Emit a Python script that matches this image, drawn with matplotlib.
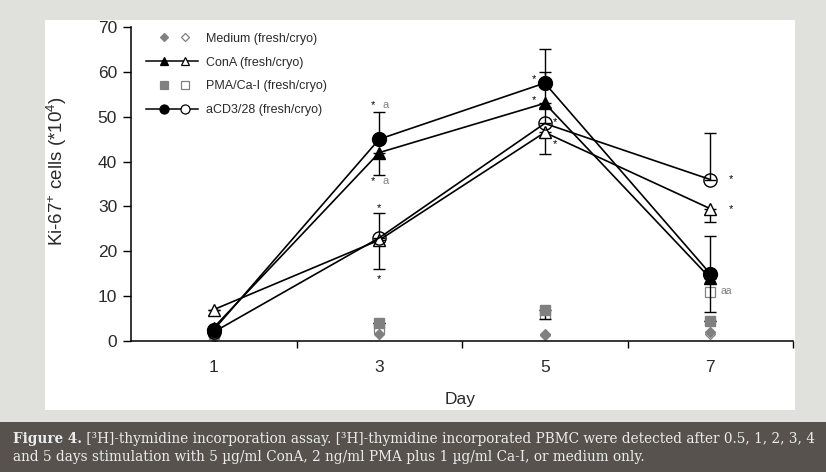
import matplotlib
matplotlib.use("Agg")
import matplotlib.pyplot as plt
from matplotlib.lines import Line2D
from matplotlib.patches import Rectangle
from matplotlib.legend_handler import HandlerBase

plt.rcParams['font.family'] = ['Liberation Sans', 'DejaVu Sans']
plt.rcParams['mathtext.fontset'] = 'custom'
plt.rcParams['mathtext.rm'] = 'Liberation Sans'
plt.rcParams['mathtext.it'] = 'Liberation Sans'

# ---------------- data ----------------
days = [1, 3, 5, 7]
tick_days = [1, 3, 5, 7]
minor_days = [2, 4, 6, 8]
y_ticks = [0, 10, 20, 30, 40, 50, 60, 70]

acd_fresh = [2.5, 45.0, 57.5, 15.0]
acd_cryo = [2.0, 23.0, 48.5, 36.0]
cona_fresh = [3.0, 42.0, 53.0, 14.0]
cona_cryo = [7.0, 22.5, 46.5, 29.5]
pma_fresh = [2.0, 4.0, 7.0, 4.5]
pma_cryo = [1.5, 3.0, 6.0, 11.0]
med_fresh = [1.0, 1.5, 1.3, 2.0]
med_cryo = [1.2, 2.0, 1.5, 1.5]

acd_fresh_err_lo = [0, 0, 0, 8.5]
acd_fresh_err_hi = [0, 6.0, 7.7, 8.5]
acd_cryo_err_lo = [0, 0, 0, 0]
acd_cryo_err_hi = [0, 5.5, 3.7, 10.3]
cona_fresh_err_lo = [0, 5.0, 0, 0]
cona_fresh_err_hi = [0, 0, 7.0, 0]
cona_cryo_err_lo = [0, 6.5, 4.8, 3.0]
cona_cryo_err_hi = [0, 0, 0, 0]
pma_fresh_err_lo = [0, 0, 2.0, 0]
pma_fresh_err_hi = [0, 0, 0, 0]

labels = ["Medium (fresh/cryo)", "ConA (fresh/cryo)",
          "PMA/Ca-I (fresh/cryo)", "aCD3/28 (fresh/cryo)"]
caption_bold = "Figure 4."
caption_rest1 = " [\u00b3H]-thymidine incorporation assay. [\u00b3H]-thymidine incorporated PBMC were detected after 0.5, 1, 2, 3, 4"
caption_line2 = "and 5 days stimulation with 5 \u00b5g/ml ConA, 2 ng/ml PMA plus 1 \u00b5g/ml Ca-I, or medium only."

GREY = '#808080'
TXT = '#2a2a2a'

# ---------------- figure ----------------
W, H = 826, 472
fig = plt.figure(figsize=(W / 100, H / 100), dpi=100)
fig.patch.set_facecolor('#e0e0dd')
fig.patches.append(Rectangle((45 / W, 1 - 410 / H), 750 / W, 390 / H,
                             transform=fig.transFigure, facecolor='white',
                             edgecolor='none', zorder=-10))
fig.patches.append(Rectangle((0, 0), 1, 1 - 422 / H, transform=fig.transFigure,
                             facecolor='#57524d', edgecolor='none', zorder=-10))

ax = fig.add_axes([131 / W, 1 - 341 / H, 662 / W, 314 / H])
ax.set_facecolor('none')


def eb(vals, lo, hi, **kw):
    ax.errorbar(days, vals, yerr=[lo, hi], ecolor='black', elinewidth=1.0,
                capsize=4, capthick=1.0, **kw)


# grey PMA / medium markers
eb(pma_fresh, pma_fresh_err_lo, pma_fresh_err_hi, ls='none', marker='s',
   ms=7, mfc=GREY, mec=GREY, zorder=2)
ax.plot(days, pma_cryo, ls='none', marker='s', ms=7, mfc='white', mec=GREY,
        mew=0.9, zorder=1.9)
ax.plot(days, med_fresh, ls='none', marker='D', ms=5.5, mfc=GREY, mec=GREY,
        zorder=2.1)
ax.plot(days, med_cryo, ls='none', marker='D', ms=5.5, mfc='white', mec=GREY,
        mew=0.9, zorder=1.8)

# main series
eb(cona_cryo, cona_cryo_err_lo, cona_cryo_err_hi, color='black', lw=1.2,
   marker='^', ms=9, mfc='white', mec='black', mew=1.0, zorder=3)
eb(acd_cryo, acd_cryo_err_lo, acd_cryo_err_hi, color='black', lw=1.2,
   marker='o', ms=9.5, mfc='none', mec='black', mew=1.0, zorder=3)
eb(cona_fresh, cona_fresh_err_lo, cona_fresh_err_hi, color='black', lw=1.2,
   marker='^', ms=8.5, mfc='black', mec='black', zorder=3)
eb(acd_fresh, acd_fresh_err_lo, acd_fresh_err_hi, color='black', lw=1.2,
   marker='o', ms=10, mfc='black', mec='black', zorder=3)

# annotations
ann_kw = dict(ha='center', va='center', fontsize=8, zorder=5)
for dx, y, s, c in [(-0.07, acd_fresh[1] + 7.6, '*', 'black'),
                    (0.08, acd_fresh[1] + 7.6, 'a', GREY),
                    (-0.07, cona_fresh[1] - 6.4, '*', 'black'),
                    (0.08, cona_fresh[1] - 6.4, 'a', GREY),
                    (0.0, acd_cryo[1] + 6.6, '*', 'black'),
                    (0.0, cona_cryo[1] - 8.6, '*', 'black')]:
    ax.text(days[1] + dx, y, s, color=c, **ann_kw)
for dx, y in [(-0.13, acd_fresh[2] + 0.8), (-0.13, cona_fresh[2] + 0.8),
              (0.12, acd_cryo[2] + 0.3), (0.12, cona_cryo[2] - 2.6)]:
    ax.text(days[2] + dx, y, '*', color='black', **ann_kw)
for y in [acd_cryo[3], cona_cryo[3]]:
    ax.text(days[3] + 0.25, y, '*', color='black', **ann_kw)
ax.text(days[3] + 0.19, pma_cryo[3] + 0.2, 'aa', color=GREY, ha='center',
        va='center', fontsize=7.5, zorder=5)

# axes styling
ax.set_xlim(0, 8)
ax.set_ylim(0, 70)
ax.set_yticks(y_ticks)
ax.set_xticks(minor_days)
ax.set_xticklabels([])
ax.set_xticks(tick_days, minor=True)
ax.set_xticklabels([str(d) for d in tick_days], minor=True)
ax.tick_params(axis='x', which='major', length=5, width=1, direction='out')
ax.tick_params(axis='x', which='minor', length=0, pad=14, labelsize=12.5,
               labelcolor=TXT)
ax.tick_params(axis='y', length=6, width=1, direction='out', pad=4,
               labelsize=12.5, labelcolor=TXT)
for s in ['top', 'right']:
    ax.spines[s].set_visible(False)
for s in ['left', 'bottom']:
    ax.spines[s].set_linewidth(1.1)
ax.set_xlabel('Day', fontsize=12.5, color=TXT)
ax.xaxis.set_label_coords((460 - 131) / 662, -(392 - 341) / 314)
ax.set_ylabel('Ki-67$^{+}$ cells (*10$^{4}$)', fontsize=13.5, color=TXT)
ax.yaxis.set_label_coords(-(131 - 69) / 662, (341 - 171) / 314)


# legend
class Entry:
    def __init__(self, h1, h2, with_line):
        self.h1, self.h2, self.with_line = h1, h2, with_line


class PairHandler(HandlerBase):
    def create_artists(self, legend, orig_handle, xdescent, ydescent, width,
                       height, fontsize, trans):
        y = height / 2 - ydescent
        arts = []
        if orig_handle.with_line:
            ln = Line2D([-xdescent, width - xdescent], [y, y], color='black',
                        lw=1.1)
            ln.set_transform(trans)
            arts.append(ln)
        for frac, h in [(0.35, orig_handle.h1), (0.75, orig_handle.h2)]:
            m = Line2D([width * frac - xdescent], [y], ls='none',
                       marker=h.get_marker(), ms=h.get_markersize(),
                       mfc=h.get_markerfacecolor(), mec=h.get_markeredgecolor(),
                       mew=h.get_markeredgewidth())
            m.set_transform(trans)
            arts.append(m)
        return arts


def mk(marker, ms, mfc, mec):
    return Line2D([], [], ls='none', marker=marker, ms=ms, mfc=mfc, mec=mec,
                  mew=0.9)


handles = [
    Entry(mk('D', 4.5, GREY, GREY), mk('D', 4.5, 'white', GREY), False),
    Entry(mk('^', 6, 'black', 'black'), mk('^', 6, 'white', 'black'), True),
    Entry(mk('s', 5.5, GREY, GREY), mk('s', 5.5, 'white', GREY), False),
    Entry(mk('o', 6.5, 'black', 'black'), mk('o', 6.5, 'white', 'black'), True),
]

leg = ax.legend(handles, labels, handler_map={Entry: PairHandler()},
                loc='upper left', bbox_to_anchor=(12 / 662, 0.99),
                borderaxespad=0, borderpad=0.2, frameon=False, fontsize=9,
                handlelength=4.2, handletextpad=0.65, labelspacing=0.95)
for t in leg.get_texts():
    t.set_color(TXT)

# caption
cap_kw = dict(fontsize=9.85, family='DejaVu Serif', color='#ececec',
              va='baseline')
t1 = fig.text(13 / W, 1 - 443 / H, caption_bold, weight='bold', **cap_kw)
fig.canvas.draw()
bb = t1.get_window_extent()
fig.text(bb.x1 / W, 1 - 443 / H, caption_rest1, **cap_kw)
fig.text(13 / W, 1 - 461 / H, caption_line2, **cap_kw)

fig.savefig('out.png', dpi=100, facecolor=fig.get_facecolor())
